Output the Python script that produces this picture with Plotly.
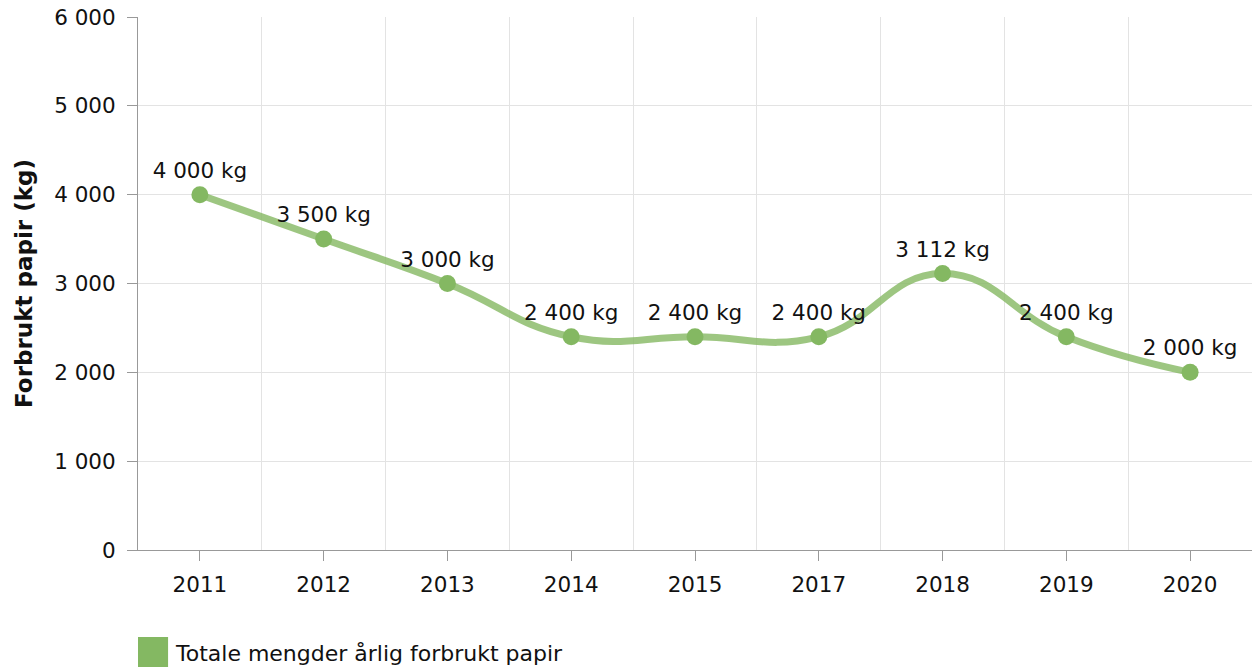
import plotly.graph_objects as go

# data
years = ["2011", "2012", "2013", "2014", "2015", "2017", "2018", "2019", "2020"]
paper_kg = [4000, 3500, 3000, 2400, 2400, 2400, 3112, 2400, 2000]
series_name = "Totale mengder årlig forbrukt papir"
y_ticks = [0, 1000, 2000, 3000, 4000, 5000, 6000]

green = "#84b862"
font = "DejaVu Sans"
pos = list(range(len(years)))

fig = go.Figure()
fig.add_trace(go.Scatter(
    x=pos, y=paper_kg, mode="lines+markers+text",
    name=series_name,
    line=dict(color="rgba(132,184,98,0.8)", width=7, shape="spline", smoothing=1.3),
    marker=dict(color=green, size=17),
    text=paper_kg, texttemplate="%{y:,} kg", textposition="top center",
    textfont=dict(family=font, size=21.5, color="#111"),
    showlegend=False,
))

# legend drawn by hand (big square symbol)
fig.add_shape(type="rect", xref="paper", yref="paper",
              x0=0, x1=0.027, y0=-0.1632, y1=-0.22,
              fillcolor=green, line=dict(width=0))
fig.add_annotation(xref="paper", yref="paper", x=0.0315, y=-0.195,
                   text=series_name, showarrow=False, xanchor="left", yanchor="middle",
                   font=dict(family=font, size=22, color="#111"))

fig.update_xaxes(
    range=[-0.5, len(years) - 0.5],
    tickvals=pos, ticktext=years,
    ticks="outside", ticklen=10, tickcolor="#999", ticklabelstandoff=5,
    showline=True, linecolor="#999", linewidth=1,
    showgrid=False, zeroline=False,
    minor=dict(tickvals=[p + 0.5 for p in pos[:-1]], showgrid=True,
               gridcolor="#e3e3e3", gridwidth=1, ticks=""),
    tickfont=dict(family=font, size=21.5, color="#111"),
)
fig.update_yaxes(
    range=[0, 6000], tickvals=y_ticks, tickformat=",d",
    ticks="outside", ticklen=10, tickcolor="#999", ticklabelstandoff=7,
    ticklabeloverflow="allow",
    showline=True, linecolor="#999", linewidth=1,
    gridcolor="#e3e3e3", zeroline=False,
    tickfont=dict(family=font, size=21.5, color="#111"),
    title=dict(text="<b>Forbrukt papir (kg)</b>", font=dict(family=font, size=23, color="#111"),
               standoff=15),
)
fig.update_layout(
    width=1254, height=667,
    margin=dict(l=138, r=2, t=17, b=117),
    plot_bgcolor="white", paper_bgcolor="white",
    separators=", ",
    font=dict(family=font),
)

# drop the default 8px page margin so the figure fills the window
fig.write_html("out.html", config={"displayModeBar": False},
               post_script="document.body.style.margin='0';")
